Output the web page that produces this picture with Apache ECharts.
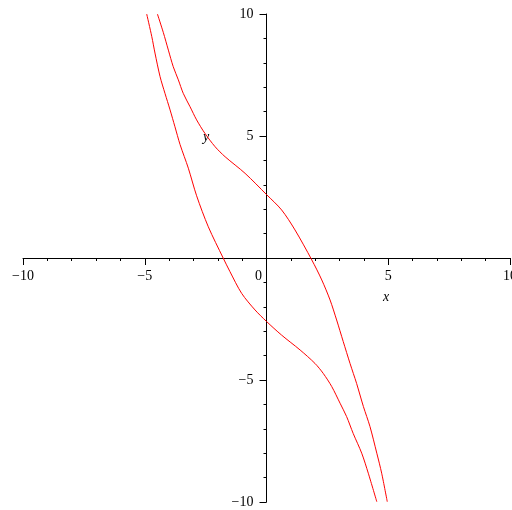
<!DOCTYPE html>
<html>
<head>
<meta charset="utf-8">
<script src="https://cdn.jsdelivr.net/npm/echarts@6/dist/echarts.min.js"></script>
<style>
  html, body { margin: 0; padding: 0; background: #fff; }
  #root { width: 512px; height: 510px; }
</style>
</head>
<body>
<div id="root"></div>
<script>
// 曲线数据
const upperX = [-4.48, -4.24, -4.03, -3.83, -3.62, -3.42, -3.14, -2.87, -2.53, -2.11, -1.70, -0.88, 0, 0.62, 1.17, 1.86, 2.27, 2.61, 2.88, 3.15, 3.43, 3.70, 3.98, 4.25, 4.53, 4.73, 4.96]
const upperY = [10, 9.25, 8.52, 7.84, 7.3, 6.75, 6.2, 5.66, 5.11, 4.56, 4.15, 3.47, 2.6, 1.97, 1.15, -0.08, -0.9, -1.72, -2.54, -3.42, -4.32, -5.14, -6.09, -6.91, -8.0, -8.82, -9.99]

const lowerX = [-4.92, -4.71, -4.58, -4.37, -4.17, -3.96, -3.76, -3.55, -3.21, -2.87, -2.39, -1.78, -1.50, -1.02, -0.47, 0, 0.62, 1.38, 1.99, 2.33, 2.68, 3.02, 3.29, 3.56, 3.91, 4.18, 4.53]
const lowerY = [10, 9.07, 8.4, 7.43, 6.75, 6.07, 5.38, 4.65, 3.68, 2.55, 1.28, 0, -0.56, -1.45, -2.13, -2.6, -3.16, -3.77, -4.32, -4.73, -5.27, -5.95, -6.5, -7.19, -8.0, -8.82, -9.99]

const axisMin = -10
const axisMax = 10
const axisStep = 5

const font = 'Liberation Serif'

let myChart = echarts.init(document.querySelector('#root'))

function fmt(v) {
  return v < 0 ? '\u2212' + Math.abs(v) : String(v)
}

function pairs(xs, ys) {
  return xs.map((x, i) => [x, ys[i]])
}

// 坐标轴穿过原点：用 offset 把轴从边上挪到中间
let option = {
  animation: false,
  grid: { left: 23, right: 2, top: 14, bottom: 8, containLabel: false, outerBoundsMode: 'none' },
  xAxis: {
    type: 'value',
    min: axisMin, max: axisMax, interval: axisStep,
    position: 'bottom',
    offset: -244,
    axisLine: { onZero: false, lineStyle: { color: '#000', width: 1 } },
    axisTick: { show: true, length: 7, lineStyle: { color: '#000' } },
    minorTick: { show: true, splitNumber: 5, length: 3, lineStyle: { color: '#000' } },
    splitLine: { show: false },
    axisLabel: {
      margin: 11,
      color: '#000', fontFamily: font, fontSize: 14,
      showMinLabel: true, showMaxLabel: true,
      formatter: v => v === 0 ? '{z|0}' : fmt(v),
      rich: { z: { padding: [0, 16, 0, 0], fontFamily: font, fontSize: 14, color: '#000' } }
    }
  },
  yAxis: {
    type: 'value',
    min: axisMin, max: axisMax, interval: axisStep,
    position: 'left',
    offset: -243.5,
    axisLine: { onZero: false, lineStyle: { color: '#000', width: 1 } },
    axisTick: { show: true, length: 7, lineStyle: { color: '#000' } },
    minorTick: { show: true, splitNumber: 5, length: 3, lineStyle: { color: '#000' } },
    splitLine: { show: false },
    axisLabel: {
      margin: 13,
      color: '#000', fontFamily: font, fontSize: 14,
      showMinLabel: true, showMaxLabel: true,
      formatter: v => v === 0 ? '' : fmt(v)
    }
  },
  graphic: [
    { type: 'text', x: 383, y: 290, style: { text: 'x', font: 'italic 14px "Liberation Serif"', fill: '#000' } },
    { type: 'text', x: 203, y: 130, style: { text: 'y', font: 'italic 14px "Liberation Serif"', fill: '#000' } }
  ],
  series: [
    {
      type: 'line', data: pairs(upperX, upperY), smooth: 0.3, showSymbol: false,
      lineStyle: { color: '#ff0000', width: 1 }, clip: true
    },
    {
      type: 'line', data: pairs(lowerX, lowerY), smooth: 0.3, showSymbol: false,
      lineStyle: { color: '#ff0000', width: 1 }, clip: true
    }
  ]
}

myChart.setOption(option)
</script>
</body>
</html>
